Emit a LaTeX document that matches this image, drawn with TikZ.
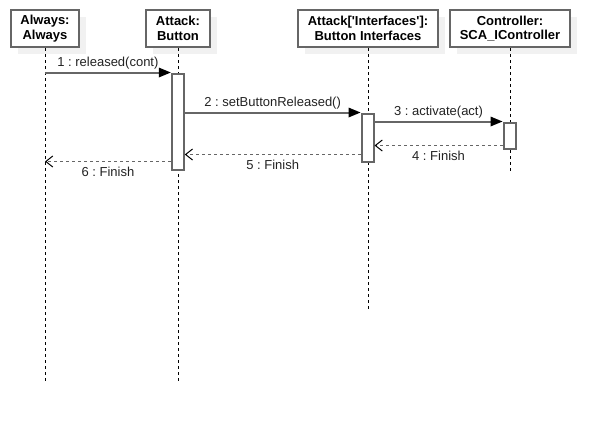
\documentclass[tikz,border=0pt]{standalone}
\usepackage{fontspec}
\setmainfont{Liberation Sans}
\usetikzlibrary{arrows.meta,shadows,calc}
\definecolor{linegray}{HTML}{666666}
\definecolor{shadegray}{HTML}{F1F1F1}
\definecolor{textgray}{HTML}{222222}
\frenchspacing
\begin{document}
\begin{tikzpicture}[x=1pt,y=-1pt,
  head/.style={draw=linegray, line width=2pt, fill=white, minimum height=37pt,
    inner sep=0pt, align=center, text=black,
    font=\fontsize{13}{14.5}\selectfont\bfseries,
    copy shadow={shadow xshift=7pt, shadow yshift=-7pt, fill=shadegray, draw=none}},
  life/.style={draw=black, line width=1pt, dash pattern=on 3pt off 3pt},
  act/.style={draw=linegray, line width=2pt, fill=white, minimum width=12pt, inner sep=0pt},
  call/.style={draw=linegray, line width=2pt,
    -{Triangle[length=12pt,width=10pt,color=black,fill=black,line width=0pt]}},
  ret/.style={draw=linegray, line width=1.5pt, dash pattern=on 3pt off 3pt,
    -{Straight Barb[length=7pt,width=11pt,color=black,line width=1pt]}},
  lbl/.style={text=textgray, font=\fontsize{13}{15}\selectfont, inner sep=2pt}
]
\useasboundingbox (0,0) rectangle (609,424);

% participants
\node[head, minimum width=68pt]  (A) at (45,28.5)  {Always:\\Always};
\node[head, minimum width=64pt]  (B) at (178,28.5) {Attack:\\Button};
\node[head, minimum width=140pt] (C) at (368,28.5) {Attack[\textquotesingle Interfaces\textquotesingle]:\\Button Interfaces};
\node[head, minimum width=120pt] (D) at (510,28.5) {Controller:\\SCA\_IController};

% lifeline ends
\coordinate (endA) at (45,383);
\coordinate (endB) at (178,383);
\coordinate (endC) at (368,310);
\coordinate (endD) at (510,172);

\draw[life] (A) -- (endA);
\draw[life] (B) -- (endB);
\draw[life] (C) -- (endC);
\draw[life] (D) -- (endD);

% activation bars
\node[act, minimum height=96pt] (act1) at (177.75,121.5) {};
\node[act, minimum height=48pt] (act2) at (367.5,137.5) {};
\node[act, minimum height=26pt] (act3) at (509.5,135.5) {};

% calls
\draw[call] (endA |- act1.north) -- node[lbl, above] {1 : released(cont)} (act1.north west);
\draw[call] (act1.east |- act2.north) -- node[lbl, above] {2 : setButtonReleased()} (act2.north west);
\draw[call] (act2.east |- act3.north) -- node[lbl, above] {3 : activate(act)} (act3.north west);

% returns
\coordinate (r4) at ($(act3.south west)+(0,-4)$);
\coordinate (r5) at ($(act2.south west)+(0,-8)$);
\coordinate (r6) at ($(act1.south west)+(0,-9)$);
\draw[ret] (r4) -- node[lbl, below=3pt] {4 : Finish} (act2.east |- r4);
\draw[ret] (r5) -- node[lbl, below=3pt] {5 : Finish} (act1.east |- r5);
\draw[ret] (r6) -- node[lbl, below=3pt] {6 : Finish} (endA |- r6);
\end{tikzpicture}
\end{document}
